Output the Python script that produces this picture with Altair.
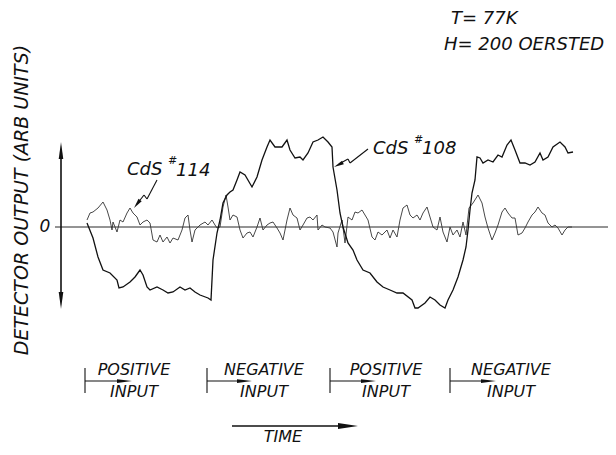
import math
import altair as alt
import pandas as pd

# ---- data (time and detector output, arbitrary units) ----
t_108 = [87, 93, 98, 103, 110, 117, 119, 123, 130, 135, 140, 143, 147, 150, 157, 163, 168, 173,
         180, 185, 190, 195, 200, 208, 211, 213, 217, 220, 223, 227, 230, 233, 237, 240, 245, 252,
         257, 262, 267, 270, 275, 282, 287, 290, 295, 300, 303, 308, 313, 318, 323, 328, 332, 333,
         337, 340, 343, 348, 353, 357, 363, 370, 377, 383, 390, 397, 403, 412, 415, 418, 425, 430,
         435, 440, 445, 448, 453, 458, 463, 466, 468, 470, 472, 475, 477, 480, 483, 488, 493, 498,
         502, 507, 511, 515, 520, 525, 530, 535, 540, 543, 548, 553, 560, 565, 568, 573]
v_108 = [4, -11, -30, -43, -46, -53, -61, -60, -55, -50, -43, -48, -60, -63, -60, -63, -66, -65,
         -60, -63, -61, -65, -68, -71, -73, -33, -6, 7, 24, 32, 35, 37, 47, 55, 52, 40,
         50, 67, 80, 87, 80, 80, 87, 77, 69, 70, 67, 74, 85, 87, 90, 85, 80, 60,
         37, 14, 0, -16, -23, -33, -43, -46, -55, -60, -63, -66, -66, -73, -81, -81, -76, -70,
         -73, -78, -81, -73, -63, -50, -33, -20, -3, 17, 34, 47, 70, 69, 64, 67, 65, 72,
         70, 82, 87, 77, 64, 64, 62, 65, 74, 67, 70, 80, 85, 80, 74, 75]

t_114 = [87, 90, 93, 98, 103, 107, 110, 112, 113, 117, 120, 123, 127, 130, 133, 137, 140, 143,
         147, 150, 153, 157, 160, 163, 167, 170, 173, 178, 182, 185, 188, 190, 192, 195, 200, 205,
         208, 212, 215, 217, 220, 223, 226, 228, 230, 233, 237, 240, 243, 247, 250, 253, 257, 260,
         263, 267, 270, 273, 277, 280, 283, 287, 290, 293, 297, 300, 303, 307, 310, 313, 317, 318,
         322, 325, 330, 333, 337, 338, 342, 345, 348, 352, 355, 358, 362, 365, 368, 372, 375, 378,
         382, 387, 390, 393, 397, 400, 403, 407, 410, 413, 417, 420, 423, 427, 430, 433, 437, 440,
         443, 447, 450, 453, 457, 460, 463, 466, 469, 473, 478, 482, 485, 488, 492, 495, 498, 502,
         505, 508, 512, 515, 518, 522, 525, 528, 532, 535, 538, 542, 545, 548, 552, 555, 558, 562,
         565, 568, 572]
v_114 = [7, 14, 15, 19, 25, 17, 7, -3, 5, -5, 7, 5, 14, 19, 14, 10, 2, 5,
         7, 4, -13, -15, -8, -15, -10, -16, -11, -13, -3, 9, 12, -3, -15, -3, 2, 5,
         2, 7, 2, -1, 0, 20, 32, 20, 7, 12, 10, -3, -11, -6, -5, -10, 0, 9,
         -3, 2, 4, 5, -1, -6, -13, 7, 19, 12, 9, -3, 2, 9, 10, 7, 12, -3,
         2, 0, -1, -5, -20, -6, 7, -16, 10, 7, 15, 14, 17, 12, 7, -10, -13, -5,
         -8, -3, -11, -3, -10, 7, 19, 22, 12, 9, 12, 7, 14, 20, 10, 0, -3, 10,
         -5, -15, 0, -8, -3, -10, 5, -8, 19, 24, 32, 24, 10, -1, -13, -6, 2, 15,
         19, 14, 9, 9, -8, -6, -1, 5, 12, 15, 20, 14, 12, 4, 0, 2, -1, -8,
         -3, 0, 0]

FONT = "DejaVu Sans"
INK = "#111111"

W, H = 600, 439
xs = alt.Scale(domain=[8, 8 + W], nice=False, zero=False)
ys = alt.Scale(domain=[227 - 8 - H, 227 - 8], nice=False, zero=False)

df108 = pd.DataFrame({"t": t_108, "v": v_108})
df114 = pd.DataFrame({"t": t_114, "v": v_114})
one = pd.DataFrame({"k": [0]})

line108 = alt.Chart(df108).mark_line(color=INK, strokeWidth=1.3).encode(
    x=alt.X("t:Q", scale=xs, axis=None), y=alt.Y("v:Q", scale=ys, axis=None))
line114 = alt.Chart(df114).mark_line(color="#333333", strokeWidth=0.9).encode(
    x=alt.X("t:Q", scale=xs, axis=None), y=alt.Y("v:Q", scale=ys, axis=None))

zero_line = alt.Chart(one).mark_rule(color=INK, strokeWidth=0.9).encode(
    x=alt.value(55 - 8), x2=alt.value(W), y=alt.YDatum(0, scale=ys, axis=None))


def seg(x1, y1, x2, y2, w=1.1):
    return alt.Chart(one).mark_rule(color=INK, strokeWidth=w).encode(
        x=alt.value(x1 - 8), y=alt.value(y1 - 8), x2=alt.value(x2 - 8), y2=alt.value(y2 - 8))


def head(tx, ty, angle, length, half):
    a = math.radians(angle)
    cx = tx - length / 2 * math.cos(a)
    cy = ty - length / 2 * math.sin(a)
    shape = f"M1,0L-1,-{half}L-1,{half}Z"
    return alt.Chart(one).mark_point(shape=shape, size=length ** 2, filled=True, color=INK,
                                     opacity=1, angle=angle, strokeWidth=0).encode(
        x=alt.value(cx - 8), y=alt.value(cy - 8))


def txt(s, x, y, size, align="center", angle=0):
    return alt.Chart(one).mark_text(text=s, font=FONT, fontStyle="italic", fontSize=size,
                                    align=align, baseline="middle", angle=angle,
                                    color=INK).encode(x=alt.value(x - 8), y=alt.value(y - 8))


layers = [zero_line, line114, line108]

# vertical double arrow
layers += [seg(61, 152, 61, 300, 1.6), head(61, 142, 270, 17, 0.27), head(61, 309, 90, 17, 0.27)]

# texts
layers += [
    txt("T= 77K", 451, 19, 18, "left"),
    txt("H= 200 OERSTED", 444, 45, 18, "left"),
    txt("DETECTOR OUTPUT (ARB UNITS)", 22, 200, 19, "center", 270),
    txt("0", 45, 227, 17),
    txt("CdS", 127, 170, 18, "left"),
    txt("#", 168, 161, 11, "left"),
    txt("114", 176, 171, 18, "left"),
    txt("CdS", 373, 149, 18, "left"),
    txt("#", 414, 140, 11, "left"),
    txt("108", 422, 149, 18, "left"),
]

# label pointers
layers += [seg(157, 180, 147, 199), seg(147, 199, 144, 195), seg(144, 195, 137, 204),
           head(134, 208, 127.6, 10, 0.4)]
layers += [seg(368, 149, 350, 163), seg(350, 163, 348, 159), seg(348, 159, 339, 164),
           head(334, 167, 153.4, 10, 0.4)]

# input markers
inputs = [
    (85, 132, "POSITIVE", 134),
    (207, 252, "NEGATIVE", 264),
    (330, 376, "POSITIVE", 386),
    (450, 496, "NEGATIVE", 511),
]
for x0, tip, word, cx in inputs:
    layers += [seg(x0, 368, x0, 393), seg(x0, 381, tip - 10, 381),
               head(tip, 381, 0, 15, 0.25),
               txt(word, cx, 370, 16), txt("INPUT", cx, 392, 16)]

# time arrow
layers += [seg(232, 426, 345, 426, 1.3), head(358, 426, 0, 20, 0.3), txt("TIME", 283, 437, 16)]

chart = alt.layer(*layers).properties(
    width=W, height=H, padding=0, autosize=alt.AutoSizeParams(type="none"),
    background="white"
).configure_view(stroke=None)

chart.save("out.html", embed_options={"renderer": "svg", "actions": False})
